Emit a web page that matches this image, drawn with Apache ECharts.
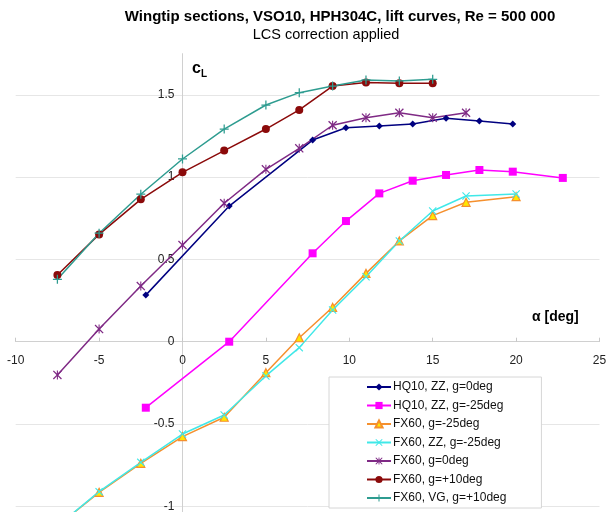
<!DOCTYPE html>
<html>
<head>
<meta charset="utf-8">
<script src="https://cdn.jsdelivr.net/npm/echarts@6/dist/echarts.min.js"></script>
<style>html,body{margin:0;padding:0;background:#fff}#c{width:607px;height:512px}</style>
</head>
<body>
<div id="c"></div>
<script>
// ---- data ----
const seriesNames = ['HQ10, ZZ, g=0deg','HQ10, ZZ, g=-25deg','FX60, g=-25deg','FX60, ZZ, g=-25deg','FX60, g=0deg','FX60, g=+10deg','FX60, VG, g=+10deg'];
const alphaHQ10a = [-2.2, 2.8, 7.8, 9.8, 11.8, 13.8, 15.8, 17.8, 19.8];
const clHQ10a    = [0.283, 0.824, 1.225, 1.30, 1.31, 1.323, 1.357, 1.341, 1.323];
const alphaHQ10b = [-2.2, 2.8, 7.8, 9.8, 11.8, 13.8, 15.8, 17.8, 19.8, 22.8];
const clHQ10b    = [-0.401, 0.0, 0.537, 0.733, 0.901, 0.978, 1.013, 1.043, 1.033, 0.995];
const alphaFX60m25 = [-7.5, -5, -2.5, 0, 2.5, 5, 7, 9, 11, 13, 15, 17, 20];
const clFX60m25    = [-1.12, -0.915, -0.739, -0.577, -0.459, -0.188, 0.024, 0.209, 0.415, 0.612, 0.766, 0.847, 0.881];
const alphaFX60ZZ  = [-7.5, -5, -2.5, 0, 2.5, 5, 7, 9, 11, 13, 15, 17, 20];
const clFX60ZZ     = [-1.12, -0.911, -0.733, -0.561, -0.445, -0.208, -0.036, 0.193, 0.395, 0.612, 0.794, 0.885, 0.897];
const alphaFX60g0  = [-7.5, -5, -2.5, 0, 2.5, 5, 7, 9, 11, 13, 15, 17];
const clFX60g0     = [-0.202, 0.077, 0.338, 0.587, 0.841, 1.047, 1.175, 1.315, 1.361, 1.391, 1.361, 1.391];
const alphaFX60p10 = [-7.5, -5, -2.5, 0, 2.5, 5, 7, 9, 11, 13, 15];
const clFX60p10    = [0.405, 0.652, 0.865, 1.029, 1.161, 1.292, 1.408, 1.553, 1.574, 1.57, 1.57];
const alphaFX60VG  = [-7.5, -5, -2.5, 0, 2.5, 5, 7, 9, 11, 13, 15];
const clFX60VG     = [0.379, 0.659, 0.896, 1.11, 1.292, 1.438, 1.513, 1.553, 1.59, 1.584, 1.594];

const xTicks = [-10, -5, 0, 5, 10, 15, 20, 25];
const yTicks = [-1, -0.5, 0, 0.5, 1, 1.5];

const pair = (xs, ys) => xs.map((x, i) => [x, ys[i]]);

const XPATH = 'path://M0,1 L1,0 L5,4 L9,0 L10,1 L6,5 L10,9 L9,10 L5,6 L1,10 L0,9 L4,5 Z';
const STARPATH = 'path://M0,1 L1,0 L5,4 L9,0 L10,1 L6,5 L10,9 L9,10 L5,6 L1,10 L0,9 L4,5 Z M4.4,0 L5.6,0 L5.6,10 L4.4,10 Z';
const PLUSPATH = 'path://M4.3,0 L5.7,0 L5.7,4.3 L10,4.3 L10,5.7 L5.7,5.7 L5.7,10 L4.3,10 L4.3,5.7 L0,5.7 L0,4.3 L4.3,4.3 Z';

function mk(name, data, color, symbol, size, itemStyle) {
  return {
    name, type: 'line', data, symbol, symbolSize: size, symbolKeepAspect: true,
    lineStyle: { color, width: 1.5 },
    itemStyle: Object.assign({ color }, itemStyle || {}),
    emphasis: { disabled: true },
    showAllSymbol: true, clip: true
  };
}

// layout (pixels)
const W = 607, H = 512;
const gridLeft = 15.7, gridRight = 7.5, gridTop = 53.65, gridBottom = -76.6;
const xMin = -10, xMax = 25, yMin = -1.5, yMax = 1.75;
const plotW = W - gridLeft - gridRight, plotH = H - gridTop - gridBottom;
// shift axes so that they cross at zero
const yAxisOffset = -((0 - xMin) / (xMax - xMin)) * plotW;
const xAxisOffset = -((0 - yMin) / (yMax - yMin)) * plotH;

const FONT = 'Liberation Sans, Arial, sans-serif';
const chart = echarts.init(document.getElementById('c'), null, { renderer: 'canvas' });
chart.setOption({
  animation: false,
  backgroundColor: '#fff',
  textStyle: { fontFamily: FONT },
  title: [
    { text: 'Wingtip sections, VSO10, HPH304C, lift curves, Re = 500 000', left: 335, top: 4, textAlign: 'center',
      textStyle: { fontSize: 15, fontWeight: 'bold', color: '#000', fontFamily: FONT } },
    { text: 'LCS correction applied', left: 321, top: 22, textAlign: 'center',
      textStyle: { fontSize: 14.5, fontWeight: 'normal', color: '#000', fontFamily: FONT } }
  ],
  grid: { left: gridLeft, right: gridRight, top: gridTop, bottom: gridBottom, containLabel: false, outerBoundsMode: 'none' },
  xAxis: {
    type: 'value', min: xMin, max: xMax, interval: 5, position: 'bottom', offset: xAxisOffset,
    axisLine: { onZero: false, lineStyle: { color: '#d0d0d0', width: 1 } },
    axisTick: { show: true, inside: true, length: 4, lineStyle: { color: '#c8c8c8' } },
    axisLabel: { fontSize: 12, color: '#222', margin: 13, formatter: v => xTicks.includes(v) ? String(v) : '' },
    splitLine: { show: false }
  },
  yAxis: {
    type: 'value', min: yMin, max: yMax, interval: 0.5, position: 'left', offset: yAxisOffset,
    axisLine: { show: true, onZero: false, lineStyle: { color: '#d0d0d0', width: 1 } },
    axisTick: { show: false },
    axisLabel: { fontSize: 12, color: '#222', margin: 8, showMaxLabel: false,
      formatter: v => yTicks.includes(v) ? String(v) : '' },
    splitLine: { show: true, showMaxLine: false, lineStyle: { color: '#e6e6e6', width: 1 } }
  },
  legend: {
    orient: 'vertical', left: 329, top: 377,
    padding: [4, 35, 4, 37],
    backgroundColor: '#fff', borderColor: '#d6d6d6', borderWidth: 1,
    itemWidth: 24, itemHeight: 9, itemGap: 6.5,
    textStyle: { fontSize: 12, color: '#111', padding: [0, 0, 0, -3] },
    data: seriesNames
  },
  graphic: [
    { type: 'text', left: 192, top: 61, style: { text: 'c', font: 'bold 16px ' + FONT, fill: '#000' } },
    { type: 'text', left: 201, top: 69, style: { text: 'L', font: 'bold 10px ' + FONT, fill: '#000' } },
    { type: 'text', left: 532, top: 310, style: { text: 'α [deg]', font: 'bold 14px ' + FONT, fill: '#000' } }
  ],
  series: [
    mk(seriesNames[0], pair(alphaHQ10a, clHQ10a), '#000080', 'diamond', 7),
    mk(seriesNames[1], pair(alphaHQ10b, clHQ10b), '#FF00FF', 'rect', 8),
    mk(seriesNames[2], pair(alphaFX60m25, clFX60m25), '#F5902E', 'triangle', 8, { color: '#FFE800', borderColor: '#F5902E', borderWidth: 1.2 }),
    mk(seriesNames[3], pair(alphaFX60ZZ, clFX60ZZ), '#40E8E8', XPATH, 8),
    mk(seriesNames[4], pair(alphaFX60g0, clFX60g0), '#7F2A85', STARPATH, 9),
    mk(seriesNames[5], pair(alphaFX60p10, clFX60p10), '#8B0A0A', 'circle', 8),
    mk(seriesNames[6], pair(alphaFX60VG, clFX60VG), '#2E9C90', PLUSPATH, 9)
  ]
});
</script>
</body>
</html>
